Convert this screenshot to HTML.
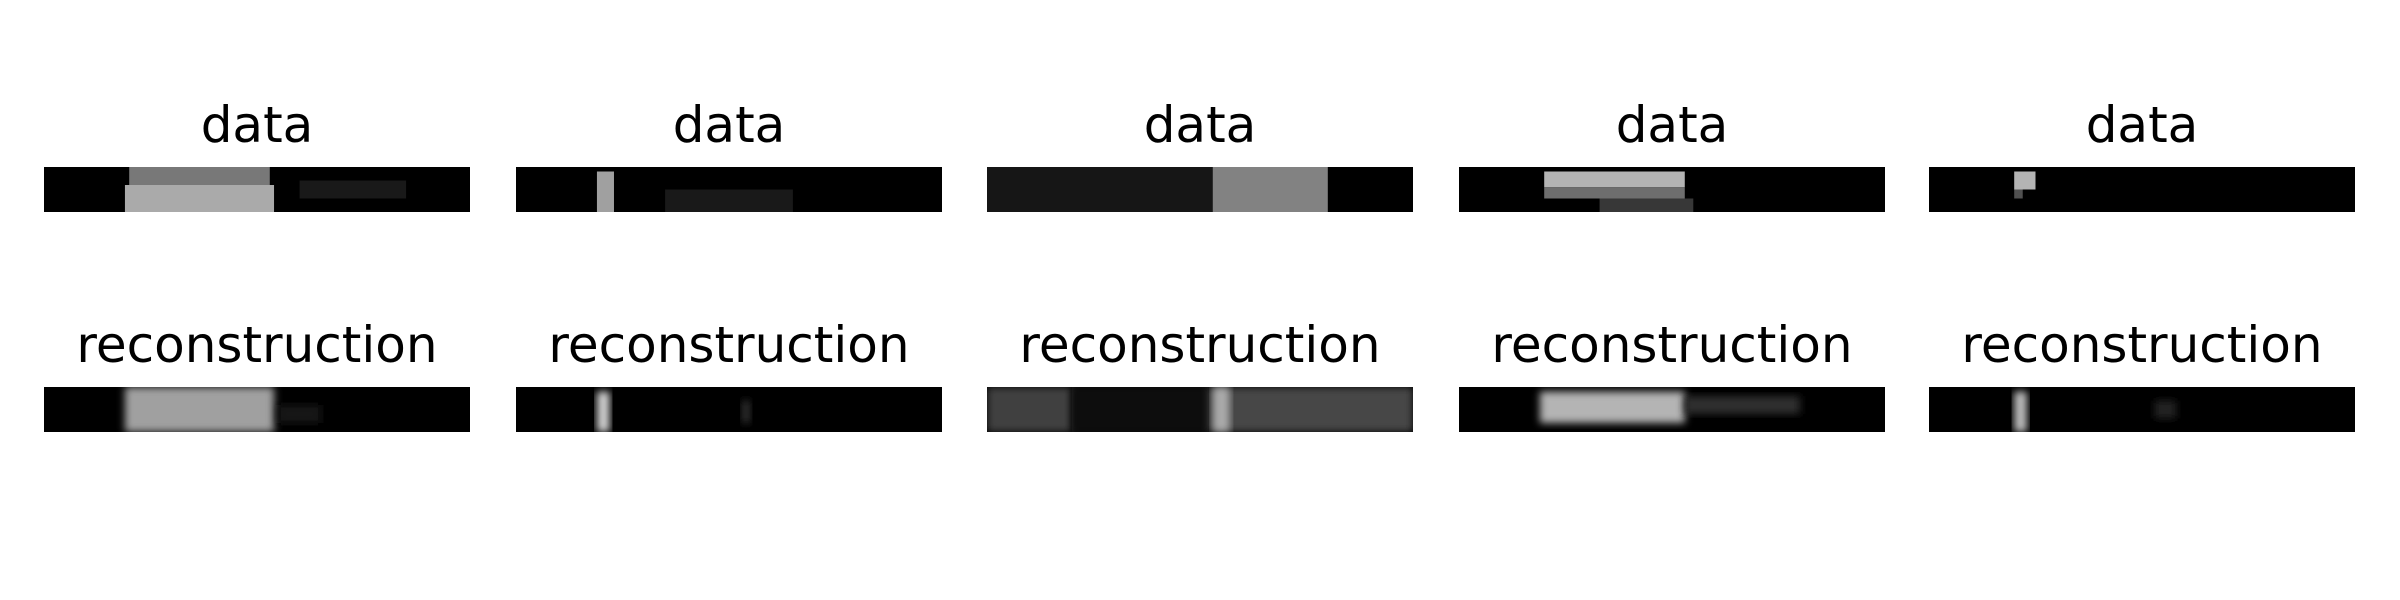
<!DOCTYPE html>
<html><head><meta charset="utf-8"><style>
html,body{margin:0;padding:0;background:#fff;}
svg{display:block;}
text{font-family:"DejaVu Sans","Liberation Sans",sans-serif;font-size:50px;fill:#000;}
</style></head><body>
<svg id="fig" width="2400" height="600" viewBox="0 0 2400 600">
<defs>
<filter id="blur" x="-20%" y="-20%" width="140%" height="140%"><feGaussianBlur stdDeviation="4"/></filter>
</defs>
</svg>
<script>
// panel columns
const colX = [44, 516, 987, 1459, 1929];
const panelW = 426;
const rowTitles = ["data", "reconstruction"];
const rowY = [167, 387];
const panelH = 45;
// bright regions per panel: [x0, x1, y0, y1, gray 0-255] as fractions of panel
const dataBlobs = [
  [[0.2,0.53,0.0,0.4,120],[0.19,0.54,0.4,1.0,170],[0.6,0.85,0.3,0.7,25]],
  [[0.19,0.23,0.1,1.0,160],[0.35,0.65,0.5,1.0,25]],
  [[0.0,0.55,0.0,1.0,22],[0.53,0.8,0.0,1.0,130]],
  [[0.2,0.53,0.1,0.45,180],[0.2,0.53,0.45,0.7,110],[0.33,0.55,0.7,1.0,55]],
  [[0.2,0.25,0.1,0.5,180],[0.2,0.22,0.5,0.7,80]]
];
const reconBlobs = [
  [[0.19,0.54,0.0,1.0,160],[0.55,0.65,0.4,0.8,20]],
  [[0.19,0.22,0.1,1.0,210],[0.53,0.55,0.3,0.8,45]],
  [[0.0,0.2,0.0,1.0,65],[0.2,0.52,0.0,1.0,15],[0.52,1.0,0.0,1.0,70],[0.53,0.57,0.0,1.0,170]],
  [[0.19,0.53,0.1,0.8,180],[0.53,0.8,0.2,0.6,45]],
  [[0.2,0.23,0.1,1.0,190],[0.53,0.58,0.3,0.7,35]]
];
const svg = document.getElementById('fig');
const NS = 'http://www.w3.org/2000/svg';
const sx = (c, f) => colX[c] + f * panelW;
const sy = (r, f) => rowY[r] + f * panelH;
[dataBlobs, reconBlobs].forEach((blobs, r) => {
  blobs.forEach((list, c) => {
    const t = document.createElementNS(NS, 'text');
    
    
    t.setAttribute('x', colX[c] + panelW / 2);
    t.setAttribute('y', rowY[r] - 25);
    t.setAttribute('text-anchor', 'middle');
    t.textContent = rowTitles[r];
    svg.appendChild(t);
    const g = document.createElementNS(NS, 'g');
    
    
    const cp = document.createElementNS(NS, 'clipPath');
    cp.setAttribute('id', 'cp' + r + c);
    const cr = document.createElementNS(NS, 'rect');
    cr.setAttribute('x', colX[c]); cr.setAttribute('y', rowY[r]);
    cr.setAttribute('width', panelW); cr.setAttribute('height', panelH);
    cp.appendChild(cr); svg.appendChild(cp);
    g.setAttribute('clip-path', 'url(#cp' + r + c + ')');
    const bg = document.createElementNS(NS, 'rect');
    
    
    bg.setAttribute('x', colX[c]); bg.setAttribute('y', rowY[r]);
    bg.setAttribute('width', panelW); bg.setAttribute('height', panelH);
    bg.setAttribute('fill', '#000');
    g.appendChild(bg);
    list.forEach(b => {
      const rc = document.createElementNS(NS, 'rect');
      
      
      rc.setAttribute('x', sx(c, b[0])); rc.setAttribute('y', sy(r, b[2]));
      rc.setAttribute('width', sx(c, b[1]) - sx(c, b[0]));
      rc.setAttribute('height', sy(r, b[3]) - sy(r, b[2]));
      rc.setAttribute('fill', `rgb(${b[4]},${b[4]},${b[4]})`);
      if (r === 1) rc.setAttribute('filter', 'url(#blur)');
      g.appendChild(rc);
    });
    svg.appendChild(g);
  });
});
</script>
</body></html>
